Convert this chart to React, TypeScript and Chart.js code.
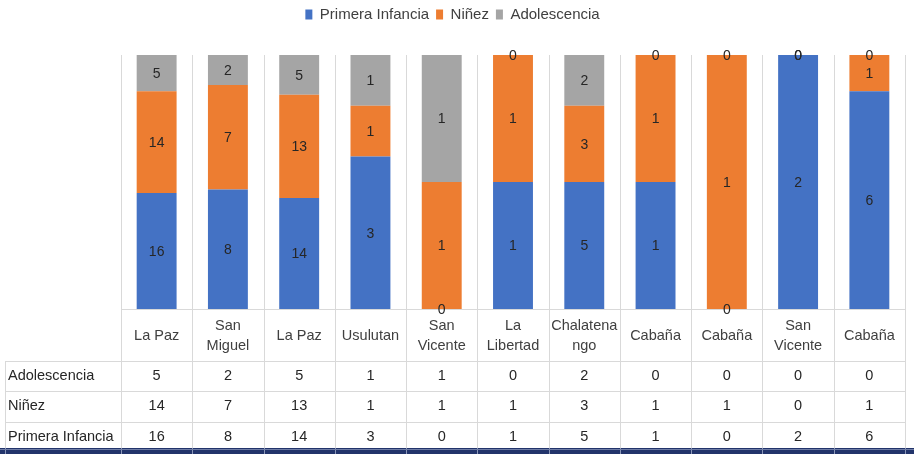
import React, { useEffect, useRef } from 'react';
import { Chart, registerables } from 'chart.js';

Chart.register(...registerables);

// ---- data ----
const categories: string[][] = [
  ['La Paz'],
  ['San', 'Miguel'],
  ['La Paz'],
  ['Usulutan'],
  ['San', 'Vicente'],
  ['La', 'Libertad'],
  ['Chalatena', 'ngo'],
  ['Cabaña'],
  ['Cabaña'],
  ['San', 'Vicente'],
  ['Cabaña'],
];
const seriesNames = ['Primera Infancia', 'Niñez', 'Adolescencia'];
const primeraInfancia = [16, 8, 14, 3, 0, 1, 5, 1, 0, 2, 6];
const ninez = [14, 7, 13, 1, 1, 1, 3, 1, 1, 0, 1];
const adolescencia = [5, 2, 5, 1, 1, 0, 2, 0, 0, 0, 0];
const seriesColors = ['#4472C4', '#ED7D31', '#A5A5A5'];

const FONT = '"Liberation Sans", Arial, sans-serif';
const rawSeries = [primeraInfancia, ninez, adolescencia];
const totals = primeraInfancia.map((v, i) => v + ninez[i] + adolescencia[i]);
const pctSeries = rawSeries.map((s) => s.map((v, i) => (totals[i] ? (v / totals[i]) * 100 : 0)));

// table rows (top to bottom)
const tableRows: { name: string; values: number[] }[] = [
  { name: 'Adolescencia', values: adolescencia },
  { name: 'Niñez', values: ninez },
  { name: 'Primera Infancia', values: primeraInfancia },
];

const GRID = '#D9D9D9';
const TABLE_LEFT = 5;
const HEADER_BOTTOM = 361;
const ROW_LINES = [361, 391, 422];
const ROW_CENTERS = [376, 406, 437];
const TABLE_BOTTOM = 452;

const tablePlugin = {
  id: 'dataTable',
  beforeDatasetsDraw(chart: any) {
    const { ctx, chartArea } = chart;
    const x = chart.scales.x;
    const colW = x.getPixelForValue(1) - x.getPixelForValue(0);
    ctx.save();
    ctx.strokeStyle = GRID;
    ctx.lineWidth = 1;
    for (let i = 0; i <= categories.length; i++) {
      const px = Math.round(x.getPixelForValue(0) - colW / 2 + i * colW) + 0.5;
      ctx.beginPath();
      ctx.moveTo(px, chartArea.top);
      ctx.lineTo(px, TABLE_BOTTOM);
      ctx.stroke();
    }
    ctx.beginPath();
    ctx.moveTo(TABLE_LEFT + 0.5, HEADER_BOTTOM);
    ctx.lineTo(TABLE_LEFT + 0.5, TABLE_BOTTOM);
    ctx.stroke();
    ctx.beginPath();
    ctx.moveTo(chartArea.left, Math.round(chartArea.bottom) + 0.5);
    ctx.lineTo(chartArea.right, Math.round(chartArea.bottom) + 0.5);
    ctx.stroke();
    for (const y of ROW_LINES) {
      ctx.beginPath();
      ctx.moveTo(TABLE_LEFT, y + 0.5);
      ctx.lineTo(chartArea.right, y + 0.5);
      ctx.stroke();
    }
    ctx.restore();
  },
  afterDatasetsDraw(chart: any) {
    const { ctx } = chart;
    ctx.save();
    ctx.font = `14px ${FONT}`;
    ctx.fillStyle = '#262626';
    ctx.textAlign = 'center';
    ctx.textBaseline = 'middle';
    chart.data.datasets.forEach((ds: any, di: number) => {
      const meta = chart.getDatasetMeta(di);
      meta.data.forEach((el: any, i: number) => {
        const p = el.getCenterPoint();
        ctx.fillText(String(rawSeries[di][i]), p.x, p.y + 1);
      });
    });
    ctx.restore();
  },
  afterDraw(chart: any) {
    const { ctx } = chart;
    const x = chart.scales.x;
    ctx.save();
    ctx.font = `14.5px ${FONT}`;
    ctx.textBaseline = 'middle';
    ctx.fillStyle = '#404040';
    ctx.textAlign = 'center';
    categories.forEach((lines, i) => {
      const cx = x.getPixelForValue(i);
      const lh = 20;
      const start = 336 - ((lines.length - 1) * lh) / 2;
      lines.forEach((t, k) => ctx.fillText(t, cx, start + k * lh));
    });
    ctx.fillStyle = '#262626';
    tableRows.forEach((row, r) => {
      ctx.textAlign = 'left';
      ctx.fillText(row.name, 8, ROW_CENTERS[r]);
      ctx.textAlign = 'center';
      row.values.forEach((v, i) => ctx.fillText(String(v), x.getPixelForValue(i), ROW_CENTERS[r]));
    });
    // bottom band
    ctx.fillStyle = '#22346B';
    ctx.fillRect(0, 448, chart.width, 6);
    ctx.strokeStyle = '#8A96B8';
    const colW = x.getPixelForValue(1) - x.getPixelForValue(0);
    for (let i = 0; i <= categories.length; i++) {
      const px = Math.round(x.getPixelForValue(0) - colW / 2 + i * colW) + 0.5;
      ctx.beginPath();
      ctx.moveTo(px, 448);
      ctx.lineTo(px, 454);
      ctx.stroke();
    }
    ctx.beginPath();
    ctx.moveTo(TABLE_LEFT + 0.5, 448);
    ctx.lineTo(TABLE_LEFT + 0.5, 454);
    ctx.stroke();
    ctx.fillStyle = '#6F7DA6';
    ctx.fillRect(0, 449, chart.width, 1);
    ctx.restore();
  },
};

export default function App() {
  const ref = useRef<HTMLCanvasElement>(null);
  useEffect(() => {
    if (!ref.current) return;
    const chart = new Chart(ref.current, {
      type: 'bar',
      data: {
        labels: categories.map((c) => c.join(' ')),
        datasets: seriesNames.map((name, i) => ({
          label: name,
          data: pctSeries[i],
          backgroundColor: seriesColors[i],
          borderWidth: 0,
          categoryPercentage: 0.8,
          barPercentage: 0.7,
        })),
      },
      options: {
        responsive: false,
        animation: false,
        layout: { padding: { left: 0, right: 9, top: 0, bottom: 145 } },
        scales: {
          x: { stacked: true, display: false },
          y: {
            stacked: true,
            display: true,
            min: 0,
            max: 100,
            grid: { display: false },
            border: { display: false },
            ticks: { display: false },
            afterFit: (s: any) => {
              s.width = 121;
            },
          },
        },
        plugins: {
          legend: {
            position: 'top',
            labels: {
              boxWidth: 7,
              boxHeight: 10,
              padding: 7,
              color: '#404040',
              font: { size: 15, family: FONT },
            },
          },
          title: {
            display: true,
            text: '',
            weight: 500,
            font: { size: 10, lineHeight: 1 },
            padding: { top: 0, bottom: 13 },
          },
          tooltip: { enabled: false },
        },
      },
      plugins: [tablePlugin],
    } as any);
    return () => chart.destroy();
  }, []);
  return (
    <div style={{ position: 'fixed', left: 0, top: 0, width: 914, height: 454, background: '#fff' }}>
      <canvas ref={ref} width={914} height={454} />
    </div>
  );
}
